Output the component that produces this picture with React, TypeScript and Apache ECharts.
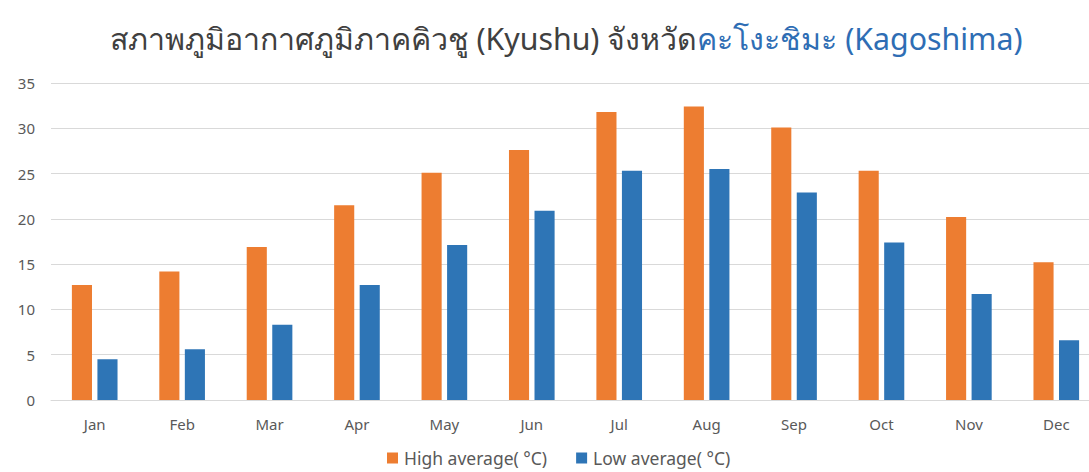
import React, { useEffect, useRef } from "react";
import * as echarts from "echarts";

const months = ["Jan", "Feb", "Mar", "Apr", "May", "Jun", "Jul", "Aug", "Sep", "Oct", "Nov", "Dec"];
const highAvg = [12.7, 14.2, 16.9, 21.5, 25.1, 27.6, 31.8, 32.4, 30.1, 25.3, 20.2, 15.2];
const lowAvg = [4.5, 5.6, 8.3, 12.7, 17.1, 20.9, 25.3, 25.5, 22.9, 17.4, 11.7, 6.6];
const seriesNames = ["High average( °C)", "Low average( °C)"];
const titleGray = "สภาพภูมิอากาศภูมิภาคคิวชู (Kyushu) จังหวัด";
const titleBlue = "คะโงะชิมะ (Kagoshima)";

export default function App() {
  const ref = useRef<HTMLDivElement>(null);
  useEffect(() => {
    if (!ref.current) return;
    const chart = echarts.init(ref.current, undefined, { renderer: "svg" });
    const font = "'Noto Sans', 'DejaVu Sans', sans-serif";
    chart.setOption({
      animation: false,
      backgroundColor: "#ffffff",
      title: {
        text: `{g|${titleGray}}{b|${titleBlue}}`,
        left: 561,
        textAlign: "center",
        top: 18,
        textStyle: {
          fontWeight: "normal",
          rich: {
            g: { fontSize: 30.3, color: "#404040", fontFamily: font, fontWeight: "normal" },
            b: { fontSize: 30.3, color: "#2e6db4", fontFamily: font, fontWeight: "normal" },
          },
        },
      },
      legend: {
        bottom: 0,
        left: 382,
        itemWidth: 11,
        itemHeight: 11,
        itemGap: 29,
        icon: "rect",
        textStyle: { color: "#595959", fontSize: 17.5, fontFamily: font, padding: [0, 0, 0, 1] },
        data: seriesNames,
      },
      grid: { left: 51, right: 0, top: 83, bottom: 72, containLabel: false },
      xAxis: {
        type: "category",
        data: months,
        axisLine: { lineStyle: { color: "#d9d9d9" } },
        axisTick: { show: false },
        axisLabel: { color: "#595959", fontSize: 15, margin: 16, fontFamily: font },
      },
      yAxis: {
        type: "value",
        min: 0,
        max: 35,
        interval: 5,
        axisLine: { show: false },
        axisTick: { show: false },
        splitLine: { lineStyle: { color: "#d9d9d9" } },
        axisLabel: { color: "#595959", fontSize: 15, margin: 16, fontFamily: font },
      },
      series: [
        {
          name: seriesNames[0],
          type: "bar",
          data: highAvg,
          barWidth: "23%",
          barGap: "27%",
          itemStyle: { color: "#ed7d31" },
        },
        {
          name: seriesNames[1],
          type: "bar",
          data: lowAvg,
          barWidth: "23%",
          itemStyle: { color: "#2e75b6" },
        },
      ],
    });
    return () => chart.dispose();
  }, []);
  return (
    <div style={{ position: "absolute", left: 0, top: 0, width: 1089, height: 472, overflow: "hidden" }}>
      <div ref={ref} style={{ width: 1100, height: 472 }} />
    </div>
  );
}
